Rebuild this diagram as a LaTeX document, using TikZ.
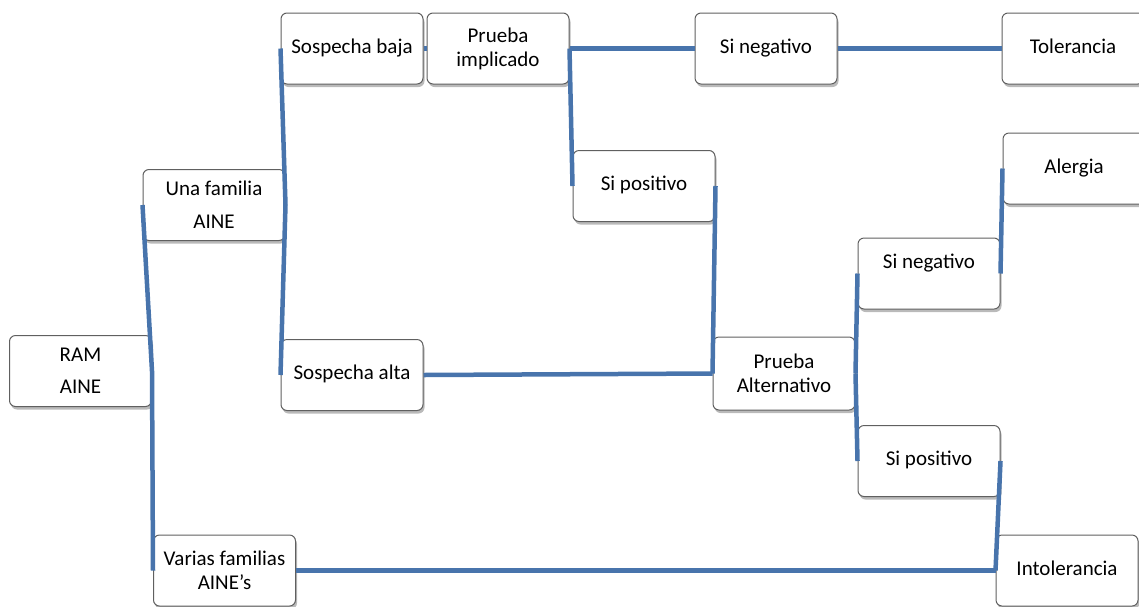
\documentclass[tikz,border=0pt]{standalone}
\usepackage{fontspec}
\setmainfont{Carlito}
\usepackage{tikz}
\usetikzlibrary{shadows}
\definecolor{azul}{RGB}{72,116,172}
\definecolor{borde}{RGB}{96,96,96}
\tikzstyle{caja}=[draw=borde,line width=1pt,fill=white,rounded corners=6pt,minimum width=142pt,minimum height=71pt,inner sep=0pt,align=center,font=\fontsize{21}{24}\selectfont,drop shadow={shadow xshift=1.5pt,shadow yshift=-3pt,opacity=0.45,fill=black!60}]
\tikzstyle{enlace}=[draw=azul,line width=4.5pt]

\begin{document}
\begin{tikzpicture}[x=1pt,y=-1pt]
\useasboundingbox (0,0) rectangle (1139,606);

\node[caja] (ram) at (80.5,371) {RAM\\[8pt]AINE};
\node[caja] (una) at (214,205) {Una familia\\[9pt]AINE};
\node[caja] (var) at (224.5,570.5) {Varias familias\\AINE's};

\node[caja] (sb) at (352,48.5) {\strut Sospecha baja};
\node[caja] (sa) at (352,375) {\strut Sospecha alta};
\node[caja] (pi) at (498,48.5) {Prueba\\implicado};
\node[caja] (sn1) at (766,48.5) {\strut Si negativo};
\node[caja] (tol) at (1073,48.5) {\strut Tolerancia};
\node[caja] (sp1) at (644,186) {\strut Si positivo};

\node[caja,minimum height=73pt] (pa) at (784,373.5) {Prueba\\Alternativo};
\node[caja] (sn2) at (929,273.5) {Si negativo\\~};
\node[caja] (sp2) at (929,461) {\strut Si positivo};
\node[caja] (al) at (1074,168.5) {\strut Alergia};
\node[caja] (int) at (1067,570.5) {\strut Intolerancia};

% ramas
\draw[enlace] (una.west) -- (ram.east) -- (var.west);
\draw[enlace] (sb.west) -- (una.east) -- (sa.west);
\draw[enlace] (sb.east) -- (pi.west);
\draw[enlace] (pi.east) -- (sn1.west);
\draw[enlace] (pi.east) -- (sp1.west);
\draw[enlace] (sn1.east) -- (tol.west);
\draw[enlace] (sp1.east) -- (pa.west);
\draw[enlace] (sa.east) -- (pa.west);
\draw[enlace] (pa.east) -- (sn2.west);
\draw[enlace] (pa.east) -- (sp2.west);
\draw[enlace] (sn2.east) -- (al.west);
\draw[enlace] (sp2.east) -- (int.west);
\draw[enlace] (var.east) -- (int.west);

\end{tikzpicture}
\end{document}
